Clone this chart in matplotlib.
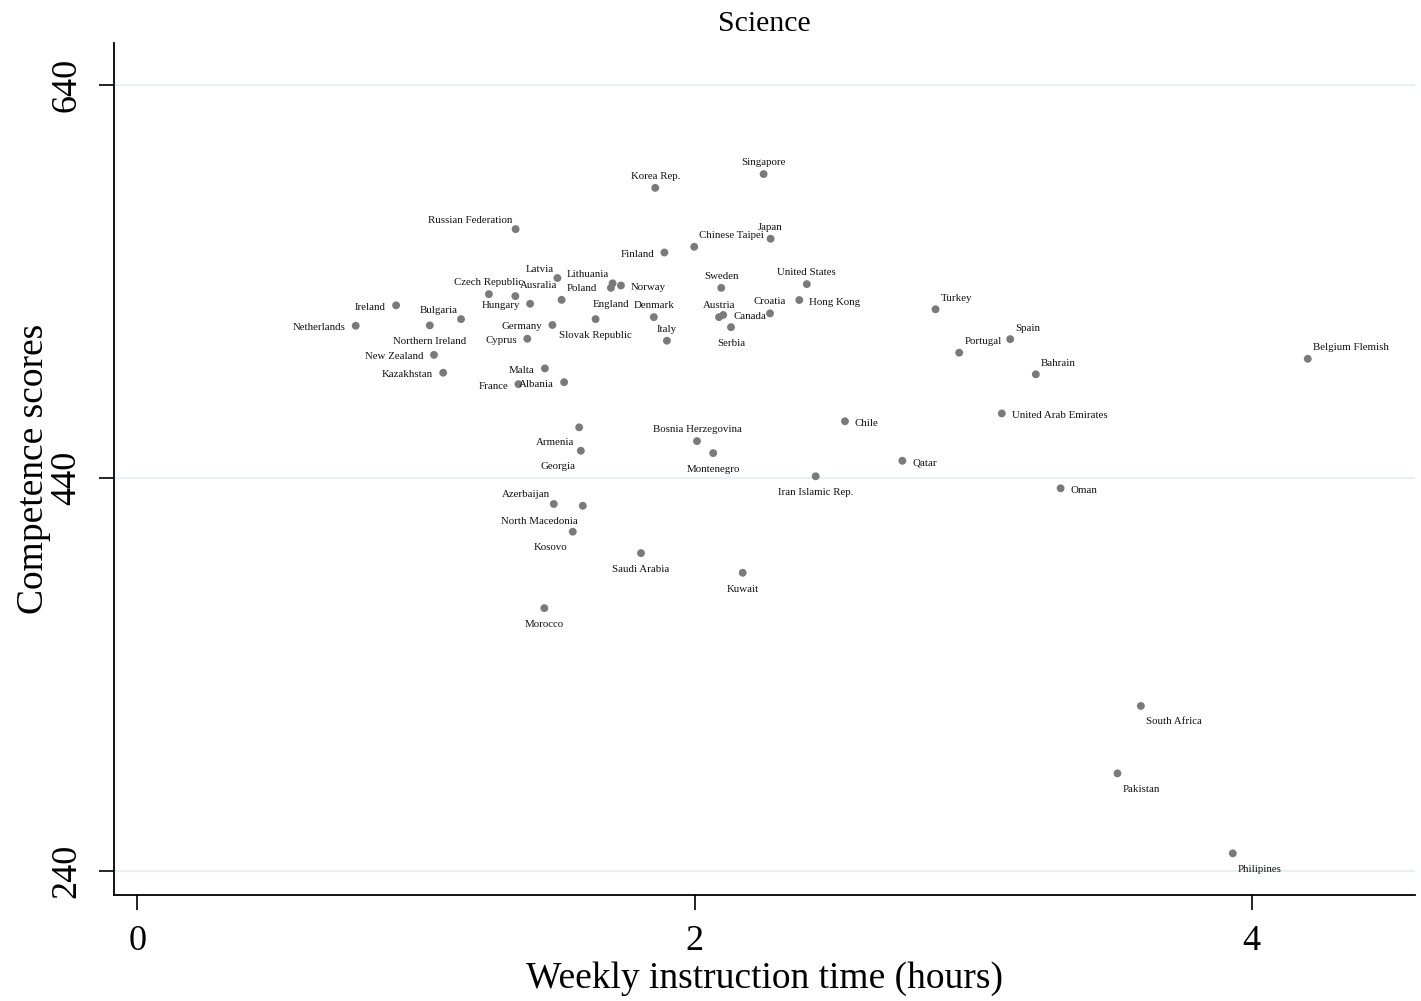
import numpy as np
import matplotlib
matplotlib.use("Agg")
import matplotlib.pyplot as plt

plt.rcParams['font.family'] = ['Liberation Serif', 'DejaVu Serif']

# Country, weekly instruction hours, competence score
countries = ['Singapore', 'Korea Rep.', 'Russian Federation', 'Japan', 'Chinese Taipei',
             'Finland', 'Latvia', 'Lithuania', 'England', 'Norway', 'Czech Republic',
             'Ausralia', 'Poland', 'Hungary', 'Ireland', 'Sweden', 'United States',
             'Hong Kong', 'Croatia', 'Austria', 'Canada', 'Serbia', 'Denmark', 'Italy',
             'Slovak Republic', 'Germany', 'Cyprus', 'Bulgaria', 'Northern Ireland',
             'Netherlands', 'New Zealand', 'Kazakhstan', 'Malta', 'France', 'Albania',
             'Turkey', 'Spain', 'Portugal', 'Bahrain', 'Belgium Flemish',
             'United Arab Emirates', 'Chile', 'Qatar', 'Iran Islamic Rep.', 'Oman',
             'Armenia', 'Georgia', 'Bosnia Herzegovina', 'Montenegro', 'Azerbaijan',
             'North Macedonia', 'Kosovo', 'Saudi Arabia', 'Kuwait', 'Morocco',
             'South Africa', 'Pakistan', 'Philipines']
hours = [2.248, 1.859, 1.358, 2.273, 1.999,
         1.892, 1.508, 1.706, 1.700, 1.736, 1.262,
         1.357, 1.523, 1.410, 0.929, 2.096, 2.403,
         2.376, 2.271, 2.088, 2.103, 2.131, 1.854, 1.901,
         1.645, 1.490, 1.400, 1.162, 1.050,
         0.784, 1.065, 1.098, 1.463, 1.368, 1.532,
         2.865, 3.133, 2.950, 3.225, 4.201,
         3.103, 2.540, 2.746, 2.435, 3.314,
         1.586, 1.592, 2.009, 2.067, 1.495,
         1.599, 1.563, 1.808, 2.173, 1.461,
         3.602, 3.518, 3.932]
scores = [594.7, 587.7, 566.7, 561.8, 557.7,
          554.8, 541.8, 539.1, 536.8, 538.0, 533.6,
          532.6, 530.7, 528.7, 527.9, 536.8, 538.7,
          530.6, 523.8, 521.9, 523.0, 516.8, 521.9, 509.9,
          520.9, 517.9, 510.9, 520.9, 517.7,
          517.5, 502.7, 493.6, 495.8, 487.8, 488.8,
          525.9, 510.7, 503.8, 492.8, 500.7,
          472.9, 468.9, 448.8, 440.9, 434.8,
          465.8, 453.9, 458.8, 452.7, 426.8,
          425.9, 412.7, 401.8, 391.8, 373.8,
          324.0, 289.7, 249.0]
# Stata-style marker label clock positions
label_pos = [12, 12, 11, 12, 1,
             9, 11, 11, 6, 3, 12,
             1, 1, 9, 9, 12, 12,
             3, 12, 12, 3, 6, 12, 12,
             6, 9, 9, 11, 6,
             9, 9, 9, 9, 9, 9,
             1, 1, 1, 1, 1,
             3, 3, 3, 6, 3,
             7, 7, 12, 6, 11,
             7, 7, 6, 6, 6,
             5, 5, 5]

# clock position -> (dx pt, dy pt, ha)
clock = {12: (0, 9.0, 'center'), 6: (0, -11.2, 'center'),
         9: (-7.2, -0.7, 'right'), 3: (7.2, -0.7, 'left'),
         1: (3.6, 8.6, 'left'), 11: (-2.5, 7.2, 'right'),
         7: (-3.6, -10.4, 'right'), 5: (3.6, -10.6, 'left')}

fig = plt.figure(figsize=(14.21, 10.01), dpi=100)
ax = fig.add_axes([0.0802, 0.1059, 0.9156, 0.8511])

for yv in [240, 440, 640]:
    ax.axhline(yv, color='#e8f0f2', linewidth=1.6, zorder=0)

ax.scatter(hours, scores, s=32, color='#7a7a7a', edgecolors='none', zorder=3)

for name, xv, yv, p in zip(countries, hours, scores, label_pos):
    dx, dy, ha = clock[p]
    ax.annotate(name, (xv, yv), xytext=(dx, dy), textcoords='offset points',
                ha=ha, va='center_baseline', fontsize=7.8, color='#111111')

ax.set_xlim(-0.0836, 4.586)
ax.set_ylim(227.8, 661.4)
ax.set_xticks([0, 2, 4])
ax.set_yticks([240, 440, 640])
ax.tick_params(axis='both', direction='out', length=10.8, width=1.2, pad=11,
               labelsize=26, color='black')
for lab in ax.get_yticklabels():
    lab.set_rotation(90)
    lab.set_va('center')

for s in ['top', 'right']:
    ax.spines[s].set_visible(False)
for s in ['left', 'bottom']:
    ax.spines[s].set_linewidth(1.3)

ax.set_title('Science', fontsize=21.5, pad=9)
ax.set_xlabel('Weekly instruction time (hours)', fontsize=27, labelpad=2)
ax.set_ylabel('Competence scores', fontsize=27, labelpad=0)

fig.savefig('out.png', dpi=100)
